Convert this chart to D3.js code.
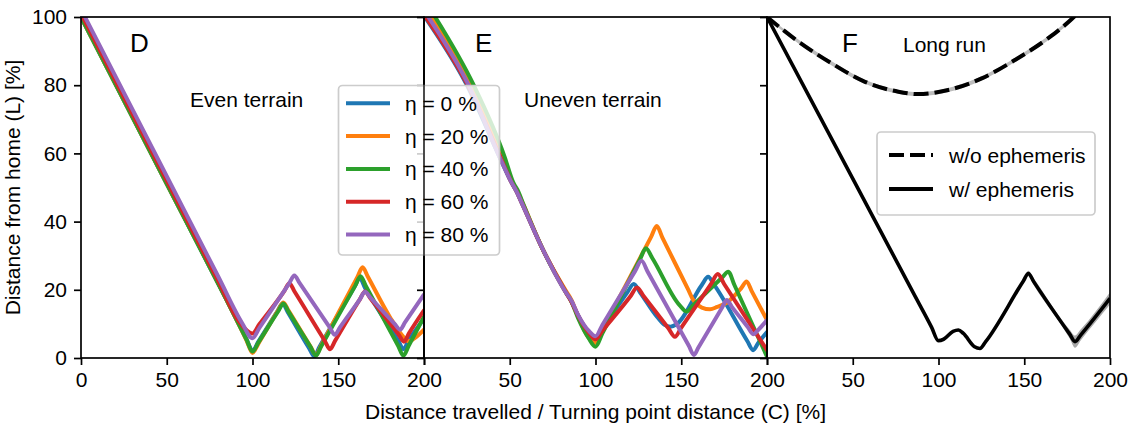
<!DOCTYPE html>
<html><head><meta charset="utf-8">
<script src="https://cdn.jsdelivr.net/npm/d3@7"></script>
<style>body{margin:0;background:#fff}svg{display:block;font-family:"Liberation Sans",Arial,sans-serif}</style>
</head><body><svg id="c" width="1133" height="430"></svg>
<script>
// ---------- labels / ticks ----------
const xTicks = [0, 50, 100, 150, 200];
const yTicks = [0, 20, 40, 60, 80, 100];
const etaLabels = ["η = 0 %", "η = 20 %", "η = 40 %", "η = 60 %", "η = 80 %"];
const etaColors = ["#1f77b4", "#ff7f0e", "#2ca02c", "#d62728", "#9467bd"];
const panelLetters = ["D", "E", "F"];
const panelTitles = ["Even terrain", "Uneven terrain", "Long run"];
const longRunLabels = ["w/o ephemeris", "w/ ephemeris"];
const xLabel = "Distance travelled / Turning point distance (C) [%]";
const yLabel = "Distance from home (L) [%]";

// ---------- panel D: even terrain, [C, L] ----------
const evenEta0 = [[0,100],[50,51.1],[85,16.9],[96.5,5.6],[100,2.2],[103.5,4.9],[114.5,13.7],[117.5,16],[120.5,13.5],[133,2.9],[136,0.5],[139,3.2],[159.5,20.9],[162.5,23.5],[165.5,20.7],[185,5.1],[188,2.6],[191,5.1],[200,11.5]];
const evenEta20 = [[0,100],[50,51.1],[85,16.9],[96.5,5.2],[100,1.5],[103.5,4.3],[115,14],[118,16.3],[121,13.9],[134,3.2],[137,0.8],[140,3.6],[161.2,23.8],[164.2,26.6],[167.2,23.9],[180,12.1],[188,6.2],[191,4.9],[194,5.6],[200,8.3]];
const evenEta40 = [[0,100],[50,51.1],[85,16.9],[96.5,5.4],[100,1.9],[103.5,4.6],[115,13.7],[118,16],[121,13.6],[134,3.1],[137,0.7],[140,3.4],[160,21.3],[163,24],[166,21.2],[185,3.5],[188,0.7],[191,3.5],[200,12.1]];
const evenEta60 = [[0,101],[50,52],[80,22.6],[92,10.8],[100,7.2],[104,9.9],[118.5,19.6],[121.5,21.9],[124.5,19.5],[142.2,5],[145.2,2.6],[148.2,5.1],[162.6,17.2],[165.6,19.5],[168.6,17.6],[185.3,6.8],[188.3,4.8],[191.3,7.3],[200,14]];
const evenEta80 = [[0,102.3],[50,53.3],[80,23.9],[94,10.2],[100,5.8],[104,8.8],[121.4,21.9],[124.4,24.2],[127.4,22],[145,9],[148,6.8],[151,9],[162.6,17.2],[165.6,19.4],[168.6,17.8],[183,9.9],[186,8.3],[189,10.5],[200,18.6]];

// ---------- panel E: uneven terrain, [C, L] ----------
const unevenEta0 = [[0.5,100],[25,80],[44,59],[51,51.5],[54,48.8],[57,45.5],[69.4,31.7],[82,20],[85,17.5],[90,12.3],[96,7.2],[100,5.8],[104,8.5],[118.5,19.2],[122.3,21.7],[126,19.2],[136,12],[140,9.8],[143.7,9.2],[147.3,9.9],[162,21.4],[165.7,23.8],[169,21.6],[188.5,5],[191.9,2.3],[195,4.5],[200,7.6]];
const unevenEta20 = [[4,100],[28,80],[46,59],[51.5,51.5],[54.5,48.8],[57.5,45.5],[69.4,31.7],[83,19.5],[86,17],[90,12],[96,6],[100,4.4],[104,8.2],[132.5,35.6],[135.7,38.7],[139,35.3],[154,20.1],[157,17],[162,14.8],[166.8,14.3],[171,15],[176.5,16.2],[185,20.5],[188.1,22.4],[191,19.7],[200,11.1]];
const unevenEta40 = [[6.5,100],[29,80],[47,59],[52,51.5],[55,48.8],[58,45],[69.4,31.7],[83,19],[86,16.5],[90,11.5],[96,5.8],[100,3.3],[104,7.2],[126,29],[129.4,32.2],[133,29.4],[149,15.5],[153.1,13.6],[157,15.5],[174,23.7],[177.4,25.3],[181,21.4],[200,0.4]];
const unevenEta60 = [[1,100],[25.5,80],[44.5,59],[51,51.5],[54,48.8],[57,45.5],[69.4,31.7],[83,19],[86,16.5],[90,12.3],[96,7.5],[100,5.5],[104,8],[120.5,18.2],[124.2,20.7],[128,18.2],[142.5,8.7],[146.3,6.2],[150,8.9],[167.5,21.8],[171.3,24.6],[175,21.7],[200,2.3]];
const unevenEta80 = [[2.5,100],[26,80],[44,59],[51,51.5],[54,48.8],[57,45.5],[69.4,31.7],[83,19],[86,16.8],[90,12.5],[96,8],[100,6.4],[104,9.7],[123,25.4],[126.8,28.5],[130.5,25.2],[154.5,3.5],[157.4,0.9],[160,3.1],[173.5,14.5],[176.5,17],[179.5,15],[189,8.9],[191.9,7],[195,8.3],[200,11.1]];

// ---------- panel F: long run, [C, L] and spread ----------
const longRunWithout = [[0,100],[18.3,92.8],[37.7,86.4],[57.1,81],[76.6,78.1],[88.2,77.4],[105.7,78.6],[125.2,82],[144.6,87.4],[164,93.8],[177.7,99.4],[182,101.5]];
const longRunWithoutSpread = [0.3,0.6,0.6,0.6,0.6,0.6,0.6,0.6,0.6,0.6,0.6,0.6];
const longRunWith = [[0,100],[50,52.6],[85,19.4],[96,9],[99.9,5.1],[103,5.5],[108.5,7.8],[111.6,8.2],[114.5,7.2],[121,3.3],[124.2,2.8],[127.5,4.8],[149.5,22.6],[152.4,24.8],[155.5,22.4],[176.5,7],[179.6,4.8],[183,6.8],[200,17.5]];
const longRunWithSpread = [0.2,0.3,0.3,0.3,0.3,0.3,0.3,0.3,0.3,0.3,0.3,0.4,0.6,0.8,1.0,1.3,1.8,1.6,1.8];

const evenSeries = [evenEta0, evenEta20, evenEta40, evenEta60, evenEta80];
const unevenSeries = [unevenEta0, unevenEta20, unevenEta40, unevenEta60, unevenEta80];

// ---------- layout ----------
const svg = d3.select("#c");
const panels = [{x0:81,x1:424},{x0:424,x1:767},{x0:767,x1:1110}];
const yTop = 17, yBot = 358;
const y = d3.scaleLinear().domain([0,100]).range([yBot, yTop]);
const xs = panels.map(p => d3.scaleLinear().domain([0,200]).range([p.x0, p.x1]));
const FONT = 21;

const defs = svg.append("defs");
panels.forEach((p,i) => {
  defs.append("clipPath").attr("id","clip"+i).append("rect")
    .attr("x",p.x0).attr("y",yTop).attr("width",p.x1-p.x0).attr("height",yBot-yTop);
});

function lineGen(x){ return d3.line().x(d=>x(d[0])).y(d=>y(d[1])).curve(d3.curveMonotoneX); }
function areaGen(x, spread){
  return d3.area().x(d=>x(d[0])).y0((d,i)=>y(d[1]-spread[i])).y1((d,i)=>y(d[1]+spread[i])).curve(d3.curveMonotoneX);
}

function drawAxes(i){
  const x = xs[i];
  const gx = svg.append("g").attr("transform",`translate(0,${yBot})`)
    .call(d3.axisBottom(x).tickValues(xTicks).tickSize(7).tickPadding(7)
      .tickFormat(d => (i>0 && d===0) ? "" : d));
  const gy = svg.append("g").attr("transform",`translate(${panels[i].x0},0)`)
    .call(d3.axisLeft(y).tickValues(yTicks).tickSize(7).tickPadding(7)
      .tickFormat(d => i===0 ? d : ""));
  [gx,gy].forEach(g=>{
    g.select(".domain").remove();
    g.selectAll(".tick line").attr("stroke","#000").attr("stroke-width",1.7);
    g.selectAll(".tick text").attr("fill","#000").style("font-size",FONT+"px")
      .style("font-family","'Liberation Sans',Arial,sans-serif");
  });
}

[0,1].forEach(i=>{
  const g = svg.append("g").attr("clip-path",`url(#clip${i})`);
  const series = i===0 ? evenSeries : unevenSeries;
  series.forEach((s,k)=>{
    g.append("path").attr("d", lineGen(xs[i])(s)).attr("fill","none")
      .attr("stroke",etaColors[k]).attr("stroke-width",4)
      .attr("stroke-linejoin","round").attr("stroke-linecap","round");
  });
});
{
  const g = svg.append("g").attr("clip-path","url(#clip2)");
  g.append("path").attr("d", areaGen(xs[2], longRunWithoutSpread)(longRunWithout))
    .attr("fill","#bdbdbd");
  g.append("path").attr("d", areaGen(xs[2], longRunWithSpread)(longRunWith))
    .attr("fill","#a8a8a8");
  g.append("path").attr("d", lineGen(xs[2])(longRunWithout)).attr("fill","none")
    .attr("stroke","#000").attr("stroke-width",4).attr("stroke-dasharray","15,6");
  g.append("path").attr("d", lineGen(xs[2])(longRunWith)).attr("fill","none")
    .attr("stroke","#000").attr("stroke-width",3.6).attr("stroke-linejoin","round");
}

[0,1,2].forEach(i=>drawAxes(i));
panels.forEach(p=>{
  svg.append("rect").attr("x",p.x0).attr("y",yTop).attr("width",p.x1-p.x0).attr("height",yBot-yTop)
    .attr("fill","none").attr("stroke","#000").attr("stroke-width",1.7);
});

const letterPos = [[130,52],[475,52],[842,52]];
panelLetters.forEach((t,i)=>{
  svg.append("text").attr("x",letterPos[i][0]).attr("y",letterPos[i][1])
    .style("font-size","26px").text(t);
});
const titlePos = [[190,107],[524,107],[903,52]];
panelTitles.forEach((t,i)=>{
  svg.append("text").attr("x",titlePos[i][0]).attr("y",titlePos[i][1])
    .style("font-size",FONT+"px").text(t);
});

{
  const lg = svg.append("g");
  lg.append("rect").attr("x",338.5).attr("y",85.5).attr("width",161).attr("height",169.5)
    .attr("rx",4).attr("fill","#fff").attr("fill-opacity",0.8)
    .attr("stroke","#cccccc").attr("stroke-width",1.7);
  svg.append("line").attr("x1",424).attr("x2",424).attr("y1",yTop).attr("y2",yBot)
    .attr("stroke","#000").attr("stroke-width",1.7).attr("stroke-opacity",0.75);
  etaLabels.forEach((t,k)=>{
    const yy = 103.3 + k*32.8;
    lg.append("line").attr("x1",346).attr("x2",390).attr("y1",yy).attr("y2",yy)
      .attr("stroke",etaColors[k]).attr("stroke-width",4);
    lg.append("text").attr("x",405).attr("y",yy+7.5).style("font-size",FONT+"px").text(t);
  });
}
{
  const lg = svg.append("g");
  lg.append("rect").attr("x",877).attr("y",132).attr("width",218).attr("height",83)
    .attr("rx",4).attr("fill","#fff").attr("fill-opacity",0.8)
    .attr("stroke","#cccccc").attr("stroke-width",1.7);
  longRunLabels.forEach((t,k)=>{
    const yy = 155 + k*34;
    lg.append("line").attr("x1",889).attr("x2",933).attr("y1",yy).attr("y2",yy)
      .attr("stroke","#000").attr("stroke-width",4)
      .attr("stroke-dasharray", k===0 ? "15,6" : null);
    lg.append("text").attr("x",949).attr("y",yy+7.5).style("font-size",FONT+"px").text(t);
  });
}

svg.append("text").attr("x",(81+1110)/2).attr("y",419).attr("text-anchor","middle")
  .style("font-size",FONT+"px").text(xLabel);
svg.append("text").attr("transform",`translate(20,${(yTop+yBot)/2}) rotate(-90)`)
  .attr("text-anchor","middle").style("font-size",FONT+"px").text(yLabel);
</script></body></html>
